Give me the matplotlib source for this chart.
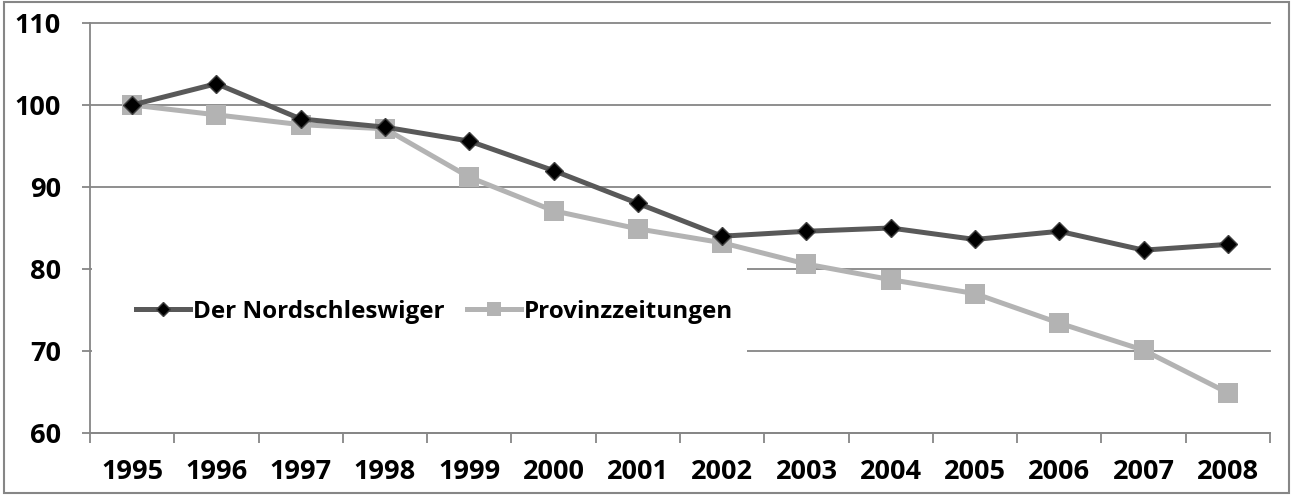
import matplotlib
matplotlib.use("Agg")
import matplotlib.pyplot as plt
from matplotlib.patches import Rectangle

years = ["1995", "1996", "1997", "1998", "1999", "2000", "2001",
         "2002", "2003", "2004", "2005", "2006", "2007", "2008"]
nordschleswiger = [100.0, 102.6, 98.3, 97.3, 95.6, 92.0, 88.0,
                   84.0, 84.6, 85.0, 83.6, 84.6, 82.3, 83.0]
provinzzeitungen = [100.0, 98.8, 97.6, 97.1, 91.2, 87.1, 84.9,
                    83.2, 80.6, 78.7, 77.0, 73.4, 70.1, 64.9]
yticks = [60, 70, 80, 90, 100, 110]

FONT = ["Open Sans", "DejaVu Sans"]
plt.rcParams["font.family"] = FONT
plt.rcParams["font.weight"] = "bold"

W, H = 1293, 495
fig = plt.figure(figsize=(W / 100, H / 100), dpi=100)
ax = fig.add_axes([90 / W, (H - 433) / H, 1180 / W, 410 / H])

grid_c = "#868686"
x = list(range(len(years)))

ax.plot(x, nordschleswiger, color="#595959", lw=3.6, marker="D", ms=9.5,
        mfc="black", mec="#404040", mew=1.0, label="Der Nordschleswiger", zorder=4)
ax.plot(x, provinzzeitungen, color="#b3b3b3", lw=3.6, marker="s", ms=14,
        mfc="#b3b3b3", mec="#b3b3b3", mew=0, label="Provinzzeitungen", zorder=3)

ax.set_xlim(-0.5, len(years) - 0.5)
ax.set_ylim(60, 110)
ax.set_yticks(yticks)
ax.set_yticklabels([str(v) for v in yticks], fontweight="bold")
ax.yaxis.grid(True, color=grid_c, lw=1.3)
for gl in ax.get_ygridlines():
    gl.set_clip_on(False)
ax.set_axisbelow(True)

ax.set_xticks([i - 0.5 for i in range(len(years) + 1)])
ax.set_xticklabels([])
ax.set_xticks(x, minor=True)
ax.set_xticklabels(years, minor=True, fontweight="bold")
ax.tick_params(axis="x", which="major", length=7.5, width=1.3, color=grid_c, direction="out")
ax.tick_params(axis="x", which="minor", length=0, pad=19, labelsize=19.5)
ax.tick_params(axis="y", which="major", length=6, width=1.3, color=grid_c, direction="out",
               pad=15, labelsize=19.5)

for s in ["top", "right"]:
    ax.spines[s].set_visible(False)
for s in ["left", "bottom"]:
    ax.spines[s].set_color(grid_c)
    ax.spines[s].set_linewidth(1.3)

# legend background box (white) covering grid lines
ax.add_patch(Rectangle((0.002, 0.19), 0.555, 0.22, transform=ax.transAxes,
                       facecolor="white", edgecolor="none", zorder=2.5))
leg = ax.legend(loc="center left", bbox_to_anchor=(0.031, (433 - 312) / 410), ncol=2,
                frameon=False, prop={"family": FONT, "weight": "bold", "size": 17.5},
                handlelength=2.2, handletextpad=0.12, columnspacing=0.95,
                borderaxespad=0, markerscale=0.75)

fig.patches.append(Rectangle((0.003, 0.004), 0.994, 0.992, transform=fig.transFigure,
                             fill=False, edgecolor=grid_c, lw=1.5))

fig.savefig("out.png", dpi=100)
